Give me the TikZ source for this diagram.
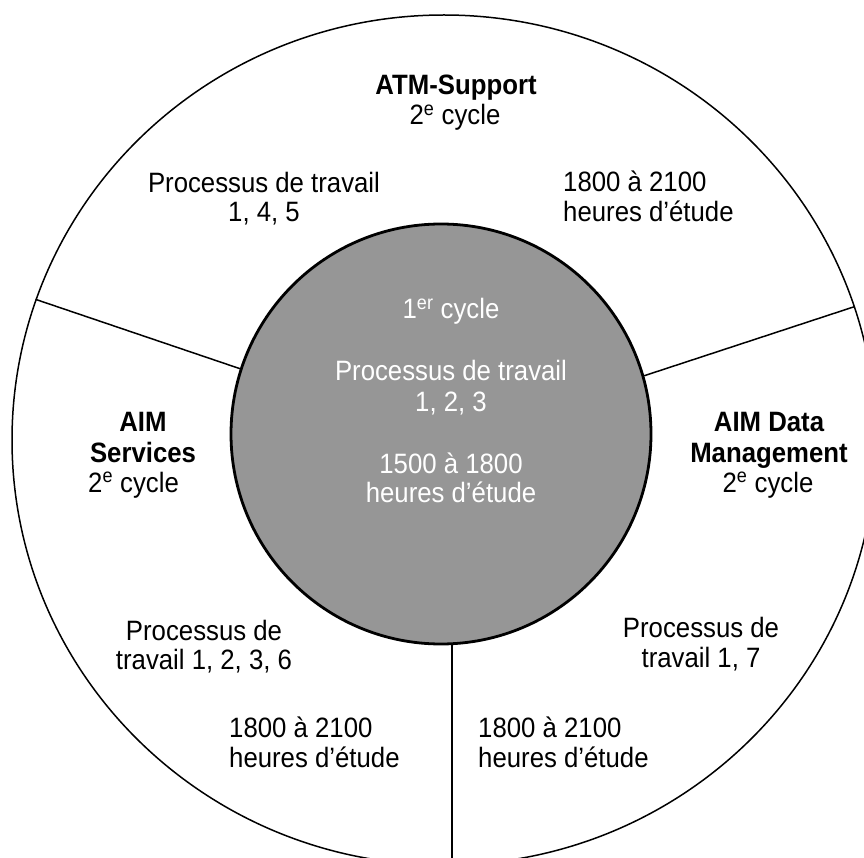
\documentclass[tikz,border=0pt]{standalone}
\usepackage{fontspec}
\setmainfont{Liberation Sans}[FakeStretch=0.92]
\usetikzlibrary{shapes.geometric}
\definecolor{coregray}{RGB}{150,150,150}
\tikzset{
  txt/.style={font=\fontsize{28}{29.5}\selectfont, inner sep=0pt, anchor=base},
  txtl/.style={txt, anchor=base west},
  bld/.style={txt, font=\fontsize{28}{29.5}\selectfont\bfseries},
  wtxt/.style={txt, text=white},
  ringstyle/.style={draw, ellipse, line width=1.5pt, inner sep=0pt, minimum width=864pt, minimum height=850pt},
  corestyle/.style={draw, circle, line width=2.8pt, fill=coregray, inner sep=0pt, minimum size=420pt},
  divider/.style={line width=1.5pt}
}
\begin{document}
\begin{tikzpicture}[x=1pt, y=-1pt]
\useasboundingbox (0,0) rectangle (864,858);
\clip (0,0) rectangle (864,858);
\fill[white] (0,0) rectangle (864,858);
\node[ringstyle] (ring) at (444,440) {};
\node[corestyle, draw=none, fill=none] (core) at (441,434) {};
\draw[divider] (ring.161.2) -- (core.162.6);
\draw[divider] (ring.18.6) -- (core.16.6);
\coordinate (bot) at (452,870);
\draw[divider] (core.-87) -- (core.-87 |- bot);
\node[corestyle] (corefill) at (441,434) {};
% top segment
\node[bld] (atm) at (456,95) {ATM-Support};
\node[txt] (atmc) at (455,125) {2\textsuperscript{e} cycle};
\node[txt] (atmp1) at (264,193) {Processus de travail};
\node[txt] (atmp2) at (264,222) {1, 4, 5};
\node[txtl] (atmh1) at (563,192) {1800 à 2100};
\node[txtl] (atmh2) at (563,222) {heures d’étude};
% core
\node[wtxt] (c1) at (451,319) {1\textsuperscript{er} cycle};
\node[wtxt] (c2) at (451,380) {Processus de travail};
\node[wtxt] (c3) at (451,411) {1, 2, 3};
\node[wtxt] (c4) at (451,473) {1500 à 1800};
\node[wtxt] (c5) at (451,502) {heures d’étude};
% left segment
\node[bld] (aims1) at (143,431) {AIM};
\node[bld] (aims2) at (143,462) {Services};
\node[txtl] (aims3) at (88,492) {2\textsuperscript{e} cycle};
\node[txt] (aimsp1) at (204,640) {Processus de};
\node[txt] (aimsp2) at (204,669) {travail 1, 2, 3, 6};
\node[txtl] (aimsh1) at (229,737) {1800 à 2100};
\node[txtl] (aimsh2) at (229,767) {heures d’étude};
% right segment
\node[bld] (aimd1) at (769,431) {AIM Data};
\node[bld] (aimd2) at (769,462) {Management};
\node[txt] (aimd3) at (768,492) {2\textsuperscript{e} cycle};
\node[txt] (aimdp1) at (701,637) {Processus de};
\node[txt] (aimdp2) at (701,667) {travail 1, 7};
\node[txtl] (aimdh1) at (478,737) {1800 à 2100};
\node[txtl] (aimdh2) at (478,767) {heures d’étude};
\end{tikzpicture}
\end{document}
